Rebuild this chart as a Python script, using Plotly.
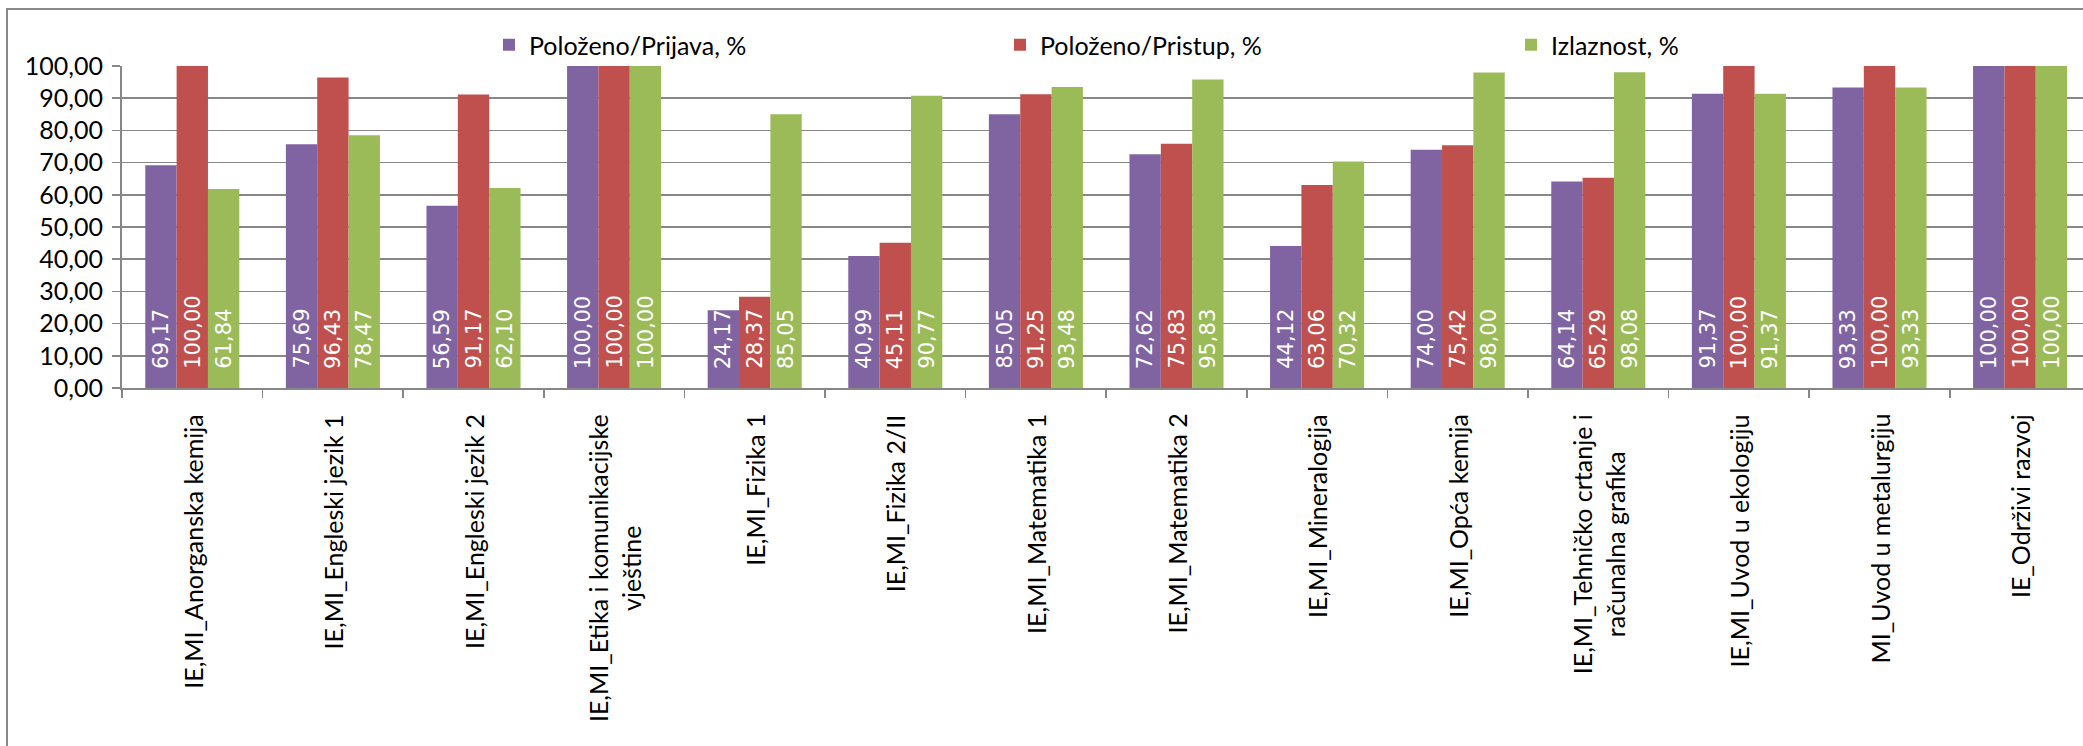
import plotly.graph_objects as go

categories = [
    "IE,MI_Anorganska kemija",
    "IE,MI_Engleski jezik 1",
    "IE,MI_Engleski jezik 2",
    "IE,MI_Etika i komunikacijske vještine",
    "IE,MI_Fizika 1",
    "IE,MI_Fizika 2/II",
    "IE,MI_Matematika 1",
    "IE,MI_Matematika 2",
    "IE,MI_Mineralogija",
    "IE,MI_Opća kemija",
    "IE,MI_Tehničko crtanje i računalna grafika",
    "IE,MI_Uvod u ekologiju",
    "MI_Uvod u metalurgiju",
    "IE_Održivi razvoj",
]
category_labels = [
    "IE,MI_Anorganska kemija",
    "IE,MI_Engleski jezik 1",
    "IE,MI_Engleski jezik 2",
    "IE,MI_Etika i komunikacijske<br>vještine",
    "IE,MI_Fizika 1",
    "IE,MI_Fizika 2/II",
    "IE,MI_Matematika 1",
    "IE,MI_Matematika 2",
    "IE,MI_Mineralogija",
    "IE,MI_Opća kemija",
    "IE,MI_Tehničko crtanje i<br>računalna grafika",
    "IE,MI_Uvod u ekologiju",
    "MI_Uvod u metalurgiju",
    "IE_Održivi razvoj",
]
polozeno_prijava = [69.17, 75.69, 56.59, 100.00, 24.17, 40.99, 85.05, 72.62, 44.12, 74.00, 64.14, 91.37, 93.33, 100.00]
polozeno_pristup = [100.00, 96.43, 91.17, 100.00, 28.37, 45.11, 91.25, 75.83, 63.06, 75.42, 65.29, 100.00, 100.00, 100.00]
izlaznost = [61.84, 78.47, 62.10, 100.00, 85.05, 90.77, 93.48, 95.83, 70.32, 98.00, 98.08, 91.37, 93.33, 100.00]

series_names = ["Položeno/Prijava, %", "Položeno/Pristup, %", "Izlaznost, %"]
series_values = [polozeno_prijava, polozeno_pristup, izlaznost]
series_colors = ["#8064A2", "#C0504D", "#9BBB59"]

W, H = 2083, 746
L, T, B = 122, 66, 358
plot_w = W - L
cat_w = 140.6
bargap = 0.331
bar_w = cat_w * (1 - bargap) / 3
grid_col = "#878787"
label_font = "Lato, Carlito, 'Open Sans', sans-serif"

fig = go.Figure()
for name, vals, col in zip(series_names, series_values, series_colors):
    fig.add_bar(x=categories, y=vals, name=name, marker_color=col, marker_line_width=0)

annotations = []
for j, vals in enumerate(series_values):
    for cat, v in zip(categories, vals):
        annotations.append(dict(
            x=cat, y=0, xref="x", yref="y", xshift=(j - 1) * bar_w, yshift=17,
            xanchor="center", yanchor="bottom", textangle=-90, showarrow=False,
            text=f"{v:.2f}".replace(".", ","),
            font=dict(family="DejaVu Sans", size=21, color="white"),
        ))
for cat, lab in zip(categories, category_labels):
    annotations.append(dict(
        x=cat, y=0, xref="x", yref="y", yshift=-24, xanchor="center", yanchor="top",
        textangle=-90, showarrow=False, align="center", text=lab,
        font=dict(family=label_font, size=25, color="black"),
    ))

plot_h = H - T - B
fig.update_layout(
    template="none",
    width=W, height=H,
    margin=dict(l=L, r=0, t=T, b=B, pad=0, autoexpand=False),
    paper_bgcolor="white", plot_bgcolor="white",
    barmode="group", bargap=bargap, bargroupgap=0,
    separators=",.",
    font=dict(family=label_font, color="black"),
    hovermode=False,
    xaxis=dict(
        automargin=False,
        range=[-0.5, -0.5 + plot_w / cat_w], showticklabels=False,
        ticks="outside", tickson="boundaries", ticklen=8, tickwidth=1.5, tickcolor=grid_col,
        showline=True, linecolor=grid_col, linewidth=2, showgrid=False, fixedrange=True,
    ),
    yaxis=dict(
        automargin=False,
        range=[0, 100], tick0=0, dtick=10, tickformat=".2f",
        ticks="outside", ticklen=8, tickwidth=1.5, tickcolor=grid_col,
        showline=True, linecolor=grid_col, linewidth=2,
        showgrid=True, gridcolor=grid_col, gridwidth=1.5, zeroline=False,
        tickfont=dict(family=label_font, size=25, color="black"),
        ticklabelstandoff=4, fixedrange=True,
    ),
    legend=dict(
        orientation="h", xref="container", yref="container",
        x=489 / W, y=1 - 45 / H, xanchor="left", yanchor="middle",
        entrywidth=466, entrywidthmode="pixels",
        font=dict(family=label_font, size=25, color="black"),
        bgcolor="rgba(0,0,0,0)", traceorder="normal",
    ),
    annotations=annotations,
    shapes=[dict(
        type="rect", xref="paper", yref="paper",
        x0=(7 - L) / plot_w, x1=(2110 - L) / plot_w,
        y0=(H - B - 770) / plot_h, y1=(H - B - 9) / plot_h,
        line=dict(color="#898989", width=2), fillcolor="rgba(0,0,0,0)", layer="below",
    )],
)

fig.write_html(
    "out.html",
    config={"displayModeBar": False, "staticPlot": True},
    post_script="document.body.style.margin='0px';document.body.style.overflow='hidden';",
)
